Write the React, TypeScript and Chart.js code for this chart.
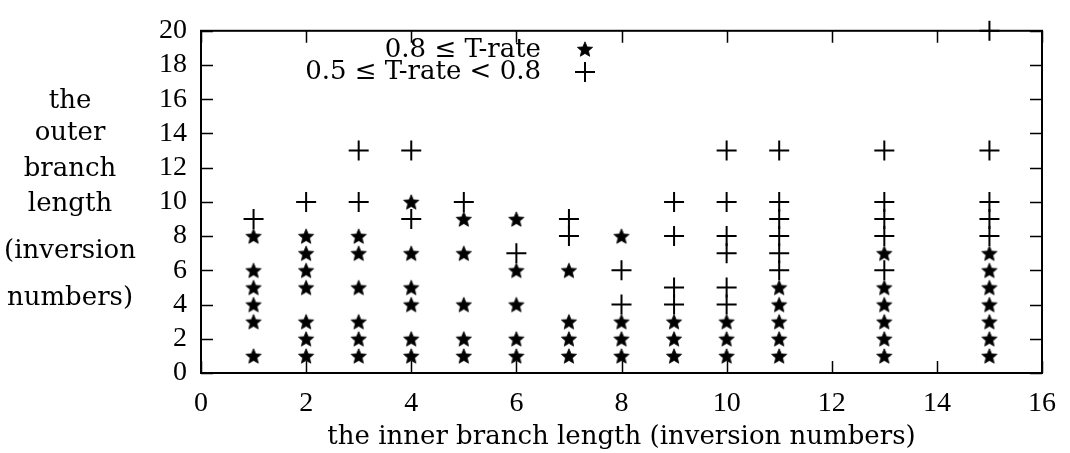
import React, { useEffect, useRef } from 'react';
import { Chart, registerables } from 'chart.js';

Chart.register(...registerables);

// Inner branch lengths that have observations
const innerLengths = [1, 2, 3, 4, 5, 6, 7, 8, 9, 10, 11, 13, 15];

// Outer branch lengths with 0.8 <= T-rate, one list per inner length
const highRateOuter = [
  [1, 3, 4, 5, 6, 8],
  [1, 2, 3, 5, 6, 7, 8],
  [1, 2, 3, 5, 7, 8],
  [1, 2, 4, 5, 7, 10],
  [1, 2, 4, 7, 9],
  [1, 2, 4, 6, 9],
  [1, 2, 3, 6],
  [1, 2, 3, 8],
  [1, 2, 3],
  [1, 2, 3],
  [1, 2, 3, 4, 5],
  [1, 2, 3, 4, 5, 7],
  [1, 2, 3, 4, 5, 6, 7],
];

// Outer branch lengths with 0.5 <= T-rate < 0.8, one list per inner length
const midRateOuter = [
  [9],
  [10],
  [10, 13],
  [9, 13],
  [10],
  [7],
  [8, 9],
  [4, 6],
  [4, 5, 8, 10],
  [4, 5, 7, 8, 10, 13],
  [6, 7, 8, 9, 10, 13],
  [6, 8, 9, 10, 13],
  [8, 9, 10, 13, 20],
];

const xTickValues = [0, 2, 4, 6, 8, 10, 12, 14, 16];
const yTickValues = [0, 2, 4, 6, 8, 10, 12, 14, 16, 18, 20];

const xTitle = 'the inner branch length (inversion numbers)';
const yTitleLines = ['the', 'outer', 'branch', 'length', '(inversion', 'numbers)'];
const legendLabels = ['0.8 \u2264 T-rate', '0.5 \u2264 T-rate < 0.8'];

const TEXT_FAMILY = '"DejaVu Serif", serif';
const TEXT_SIZE = 26;
const NUM_FAMILY = '"Liberation Serif", serif';
const NUM_SIZE = 28;

function toPoints(columns: number[][]) {
  const pts: { x: number; y: number }[] = [];
  columns.forEach((col, i) => {
    col.forEach((y) => pts.push({ x: innerLengths[i], y }));
  });
  return pts;
}

function makeStar(r: number): HTMLCanvasElement {
  const size = Math.ceil(r * 2 + 2);
  const c = document.createElement('canvas');
  c.width = size;
  c.height = size;
  const ctx = c.getContext('2d')!;
  ctx.translate(size / 2, size / 2 + 0.8);
  ctx.beginPath();
  for (let i = 0; i < 10; i++) {
    const rad = i % 2 === 0 ? r : r * 0.45;
    const a = -Math.PI / 2 + (i * Math.PI) / 5;
    const px = Math.cos(a) * rad;
    const py = Math.sin(a) * rad;
    if (i === 0) ctx.moveTo(px, py);
    else ctx.lineTo(px, py);
  }
  ctx.closePath();
  ctx.fillStyle = '#000';
  ctx.fill();
  ctx.strokeStyle = '#000';
  ctx.lineWidth = 0.8;
  ctx.stroke();
  return c;
}

const TICK_LEN = 12;

const framePlugin = {
  id: 'frameTicks',
  beforeDatasetsDraw(chart: any) {
    const { ctx, chartArea } = chart;
    const { left, right, top, bottom } = chartArea;
    const xs = chart.scales.x;
    const ys = chart.scales.y;
    ctx.save();
    ctx.strokeStyle = '#000';
    ctx.lineWidth = 1.5;
    ctx.beginPath();
    xTickValues.forEach((v) => {
      const px = Math.round(xs.getPixelForValue(v)) + 0.5;
      ctx.moveTo(px, bottom);
      ctx.lineTo(px, bottom - TICK_LEN);
      ctx.moveTo(px, top);
      ctx.lineTo(px, top + TICK_LEN);
    });
    yTickValues.forEach((v) => {
      const py = Math.round(ys.getPixelForValue(v)) + 0.5;
      ctx.moveTo(left, py);
      ctx.lineTo(left + TICK_LEN, py);
      ctx.moveTo(right, py);
      ctx.lineTo(right - TICK_LEN, py);
    });
    ctx.stroke();
    ctx.lineWidth = 2;
    ctx.strokeRect(left, top, right - left, bottom - top);
    ctx.restore();
  },
};

const yTitleBaselines = [108, 140, 176, 211, 258, 305];

const annotationPlugin = (star: HTMLCanvasElement) => ({
  id: 'titlesLegend',
  afterDraw(chart: any) {
    const { ctx } = chart;
    ctx.save();
    ctx.fillStyle = '#000';
    ctx.font = `${TEXT_SIZE}px ${TEXT_FAMILY}`;
    ctx.textBaseline = 'alphabetic';

    // multi-line y axis title
    ctx.textAlign = 'center';
    yTitleLines.forEach((line, i) => {
      ctx.fillText(line, 70, yTitleBaselines[i]);
    });

    // key
    ctx.textAlign = 'right';
    const keyRight = 541;
    const keyBaselines = [57, 79];
    const symX = 585;
    ctx.fillText(legendLabels[0], keyRight, keyBaselines[0]);
    ctx.fillText(legendLabels[1], keyRight, keyBaselines[1]);
    ctx.drawImage(star, symX - star.width / 2, 49 - star.height / 2);
    ctx.strokeStyle = '#000';
    ctx.lineWidth = 2;
    ctx.beginPath();
    ctx.moveTo(symX - 10, 72);
    ctx.lineTo(symX + 10, 72);
    ctx.moveTo(symX, 62);
    ctx.lineTo(symX, 82);
    ctx.stroke();
    ctx.restore();
  },
});

export default function App() {
  const canvasRef = useRef<HTMLCanvasElement | null>(null);

  useEffect(() => {
    if (!canvasRef.current) return;
    const star = makeStar(8);
    const numFont = { family: NUM_FAMILY, size: NUM_SIZE };
    const textFont = { family: TEXT_FAMILY, size: TEXT_SIZE };

    const chart = new Chart(canvasRef.current, {
      type: 'scatter',
      data: {
        datasets: [
          {
            label: legendLabels[0],
            data: toPoints(highRateOuter),
            pointStyle: star as any,
            pointRadius: 8,
            clip: false as any,
          },
          {
            label: legendLabels[1],
            data: toPoints(midRateOuter),
            pointStyle: 'cross',
            pointRadius: 10,
            borderWidth: 2,
            borderColor: '#000',
            backgroundColor: '#000',
            clip: false as any,
          },
        ],
      },
      options: {
        animation: false,
        responsive: false,
        events: [],
        layout: { padding: { top: 22, right: 22, left: 0, bottom: 0 } },
        plugins: {
          legend: { display: false },
          tooltip: { enabled: false },
        },
        scales: {
          x: {
            type: 'linear',
            position: 'bottom',
            min: 0,
            max: 16,
            afterFit: (s: any) => {
              s.height = 80;
            },
            afterBuildTicks: (s: any) => {
              s.ticks = xTickValues.map((v) => ({ value: v }));
            },
            grid: { display: false, drawTicks: false },
            border: { display: false },
            ticks: { color: '#000', font: numFont, padding: 14, maxRotation: 0, autoSkip: false },
            title: {
              display: true,
              text: xTitle,
              color: '#000',
              font: textFont,
              padding: { top: 0, bottom: 0 },
            },
          },
          y: {
            type: 'linear',
            min: 0,
            max: 20,
            afterFit: (s: any) => {
              s.width = 201;
            },
            afterBuildTicks: (s: any) => {
              s.ticks = yTickValues.map((v) => ({ value: v }));
            },
            grid: { display: false, drawTicks: false },
            border: { display: false },
            ticks: { color: '#000', font: numFont, padding: 14, autoSkip: false },
          },
        },
      },
      plugins: [framePlugin, annotationPlugin(star)],
    });

    return () => chart.destroy();
  }, []);

  return (
    <div style={{ position: 'absolute', left: 0, top: 0, width: 1070, height: 453, background: '#fff' }}>
      <canvas ref={canvasRef} width={1070} height={453} />
    </div>
  );
}
